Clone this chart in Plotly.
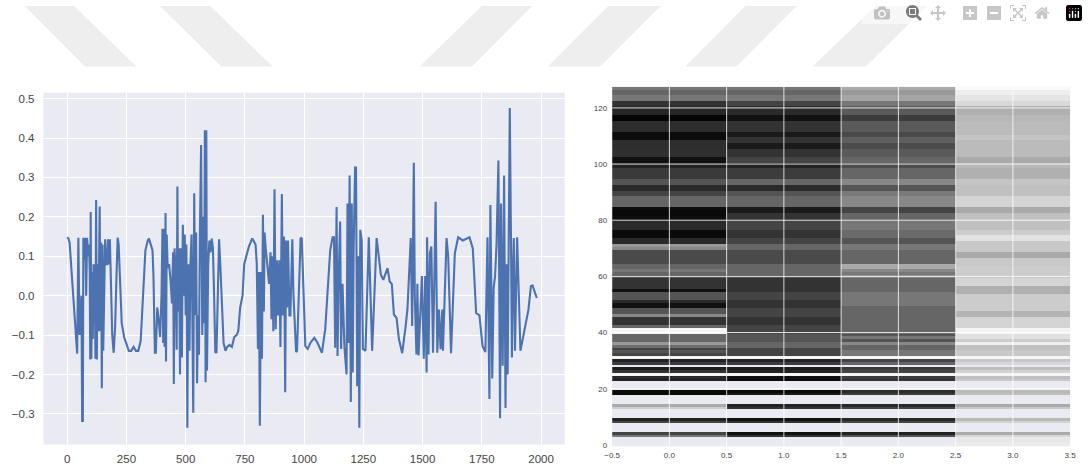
import plotly.graph_objects as go

W, H = 1088, 475
N = None

signal_x = [0,5,10,20,30,38,42,47,52,56,60,63,66,68,72,76,80,84,88,92,95,97,99,102,105,108,111,113,116,119,122,125,128,131,134,137,140,143,146,149,152,155,160,165,170,172,175,180,185,190,196,202,208,213,217,222,230,240,250,260,270,280,290,300,310,320,330,340,345,355,360,364,370,374,380,386,392,398,402,405,408,411,415,417,420,424,430,436,442,447,450,453,458,462,465,468,472,476,479,484,488,492,496,500,503,507,511,516,520,525,528,532,536,540,544,548,552,556,560,565,570,574,578,581,584,587,590,595,600,605,610,615,620,625,630,636,641,646,652,660,668,675,685,695,705,715,722,730,740,747,767,781,795,800,805,809,813,818,822,826,830,833,838,845,852,858,862,866,870,875,880,885,890,895,900,906,910,915,920,924,928,932,938,942,950,955,960,966,970,978,985,990,997,1005,1015,1026,1043,1057,1075,1089,1110,1120,1126,1131,1137,1141,1146,1152,1156,1162,1170,1179,1183,1187,1192,1197,1201,1205,1209,1215,1219,1224,1228,1233,1237,1243,1248,1259,1273,1287,1306,1314,1324,1334,1352,1361,1370,1379,1390,1400,1414,1428,1436,1450,1456,1463,1467,1474,1478,1483,1497,1505,1511,1517,1519,1525,1531,1537,1544,1549,1555,1562,1569,1576,1583,1586,1601,1608,1620,1636,1650,1670,1698,1712,1726,1740,1753,1765,1774,1782,1786,1790,1794,1800,1806,1812,1820,1827,1831,1838,1844,1850,1854,1859,1864,1868,1873,1877,1881,1885,1890,1899,1913,1931,1947,1957,1964,1982,1986,2000]
signal_y = [.148,.145,.135,.04,-.05,-.11,-.147,.147,-.10,-.05,.0,-.318,-.318,.147,.09,.147,.0,.147,.10,.13,.06,-.162,.212,-.16,.06,-.11,.08,-.07,.08,-.16,.243,-.162,.08,-.09,.05,.226,-.09,.135,-.235,.13,-.14,.0,.143,.08,.08,.143,.08,.143,.0,-.10,-.145,-.08,.05,.147,.13,.03,-.07,-.105,-.125,-.14,-.14,-.13,-.14,-.14,-.115,-.015,.115,.14,.145,.125,.115,.05,-.145,-.145,-.03,-.06,-.105,.0,.17,-.12,.17,-.13,.21,-.167,.155,.07,.08,.04,-.02,.11,-.224,.12,.05,-.137,.277,-.04,.12,-.2,.12,-.157,.18,.0,.155,-.05,.13,-.335,.08,-.14,.08,.155,-.12,-.297,.26,-.05,.16,-.222,-.05,-.15,.155,.382,-.10,.2,-.07,.42,-.22,.42,-.19,.08,.14,.11,.145,.12,.0,-.143,-.145,.0,.143,.08,.0,-.12,-.14,-.13,-.125,-.13,-.105,-.10,-.09,-.03,.0,.08,.125,.145,.13,.08,-.135,.06,-.33,.06,-.16,.205,-.04,.16,.12,.07,.03,.11,-.06,.10,-.09,.27,-.085,.09,-.05,.09,-.13,.258,-.05,.15,-.245,.14,-.03,.14,-.05,-.05,.143,.0,-.08,-.143,-.14,.0,.147,.145,.0,-.128,-.135,-.12,-.107,-.12,-.145,-.085,.115,.148,.148,-.132,.225,-.153,.05,.188,-.135,.03,-.13,-.2,.234,-.12,.305,-.27,.234,-.195,.12,.325,.325,-.23,.1,-.335,.167,.14,-.135,-.14,.148,-.14,.146,.1,.053,.04,.07,.036,.03,-.048,-.056,-.11,-.146,-.08,-.035,.146,-.077,.337,.0,-.149,.03,-.152,.05,-.16,.05,-.195,.148,-.149,.108,.125,-.145,.02,.238,-.145,-.035,-.136,-.035,-.14,.146,.1,-.146,.107,.148,.14,.148,.12,-.044,-.05,-.128,-.143,.148,-.262,.23,.03,-.21,.02,.05,.13,.343,-.311,.234,-.178,.305,-.285,.08,-.2,.146,.476,.146,-.157,.05,.146,-.14,.148,-.14,-.086,-.035,.024,.026,-.006]

tick_x = [0,250,500,750,1000,1250,1500,1750,2000]
tick_y = [-0.3,-0.2,-0.1,0.0,0.1,0.2,0.3,0.4,0.5]
tick_x2 = [-0.5,0.0,0.5,1.0,1.5,2.0,2.5,3.0,3.5]
tick_y2 = [0,20,40,60,80,100,120]

# spectrogram gray levels, row 0 (bottom) to row 127 (top)
col0 = [N,N,N,119,68,N,N,N,68,34,N,N,N,204,170,N,N,N,10,10,N,N,N,34,40,245,50,30,N,60,34,245,68,85,68,110,153,102,102,102,245,245,102,51,51,51,136,85,85,17,17,42,85,85,85,17,51,51,51,51,85,102,119,102,102,74,74,74,74,74,136,153,42,42,10,10,10,42,42,42,20,14,10,10,14,102,102,102,102,68,68,42,42,85,85,58,58,58,58,34,34,17,17,48,48,48,46,46,46,12,12,12,45,45,45,45,4,4,38,38,38,51,51,119,119,102,102,119]
col1 = [N,N,N,51,17,N,N,N,51,17,N,N,N,51,34,N,N,N,25,10,N,N,N,10,14,245,34,30,N,60,34,245,68,68,68,102,102,85,85,85,68,68,68,51,51,51,68,68,68,51,51,51,68,68,68,51,51,51,51,51,85,102,102,102,102,74,74,74,74,74,102,102,68,68,51,51,51,68,68,68,51,51,51,26,26,102,102,102,102,85,85,42,42,102,102,60,60,60,60,34,34,68,68,51,51,51,26,26,51,51,26,26,51,51,51,51,17,17,42,42,42,68,68,119,119,102,102,119]
col2 = [N,N,N,85,34,N,N,N,68,40,N,N,N,68,40,N,N,N,60,45,N,N,N,51,60,245,68,60,N,102,68,245,119,119,102,102,136,85,119,85,102,102,102,102,102,102,102,102,102,102,119,119,119,119,119,102,102,102,102,102,136,119,136,170,170,102,102,102,102,102,119,119,85,85,106,106,106,119,119,119,102,102,102,68,68,136,136,136,136,122,122,85,85,136,136,102,102,102,102,76,76,102,102,90,90,90,76,76,95,95,74,74,90,90,90,90,60,60,90,90,90,119,119,165,165,153,153,170]
col3 = [235,232,232,215,170,N,N,N,210,185,N,N,N,200,170,N,N,N,190,185,N,N,N,200,192,245,210,190,N,215,200,245,200,200,192,192,238,204,225,224,244,244,212,212,212,212,180,180,204,204,204,204,204,204,176,176,176,212,212,212,200,204,204,204,200,200,200,170,170,200,200,200,200,226,226,204,204,192,192,192,192,192,192,170,170,212,212,212,212,192,192,192,192,196,196,176,176,176,176,184,184,170,170,187,187,187,187,187,187,196,196,187,187,187,187,187,184,184,176,176,176,216,216,229,229,238,238,250]
rows = list(range(128))
columns = [0, 1, 2, 3]

# decorative watermark bands in page pixels: top-left, top-right, bottom-right, bottom-left
bands = [(17,67,130,78),(154,205,268,216),(480,531,470,417),(608,661,600,547),(747,799,738,686),(879,931,869,815)]
BAND_TOP, BAND_BOTTOM = 6, 67

fig = go.Figure()
fig.add_trace(go.Scatter(x=signal_x, y=signal_y, mode="lines", xaxis="x", yaxis="y",
                         line=dict(color="#4C72B0", width=2.1), hoverinfo="skip"))
fig.add_trace(go.Heatmap(x=columns, y=rows, z=[list(r) for r in zip(col0, col1, col2, col3)],
                         xaxis="x2", yaxis="y2", zmin=0, zmax=255,
                         colorscale=[[0, "#000000"], [1, "#ffffff"]], showscale=False, hoverinfo="skip"))

shapes = []
for a, b, c, d in bands:
    path = f"M {a/W} {1-BAND_TOP/H} L {b/W} {1-BAND_TOP/H} L {c/W} {1-BAND_BOTTOM/H} L {d/W} {1-BAND_BOTTOM/H} Z"
    shapes.append(dict(type="path", path=path, xref="paper", yref="paper", fillcolor="#EEEEEE", line=dict(width=0), layer="below"))
for t in tick_x2[1:-1]:
    shapes.append(dict(type="line", xref="x2", yref="y2 domain", x0=t, x1=t, y0=0, y1=1, line=dict(color="rgba(255,255,255,0.8)", width=1), layer="above"))
for t in tick_y2[1:]:
    shapes.append(dict(type="line", xref="x2 domain", yref="y2", x0=0, x1=1, y0=t, y1=t, line=dict(color="rgba(255,255,255,0.85)", width=1), layer="above"))

GRID = "#FFFFFF"
TXT = "#444444"
fig.update_layout(
    width=W, height=H, margin=dict(l=0, r=0, t=0, b=0), paper_bgcolor="white", plot_bgcolor="#EAEAF2",
    showlegend=False, font=dict(family="Liberation Sans, Arial, sans-serif", color=TXT),
    shapes=shapes,
    xaxis=dict(domain=[36/W, 564/W], range=[-100, 2100], tickvals=tick_x, ticktext=[str(t) for t in tick_x],
               showgrid=True, gridcolor=GRID, gridwidth=1.3, zeroline=False, showline=False, ticks="",
               tickfont=dict(size=11.5), ticklabelstandoff=6, anchor="y"),
    yaxis=dict(domain=[1-447.3/H, 1-93.3/H], range=[-0.3776, 0.515], tickvals=tick_y,
               ticktext=[f"{t:.1f}".replace("-", "\u2212") for t in tick_y],
               showgrid=True, gridcolor=GRID, gridwidth=1.3, zeroline=False, showline=False, ticks="",
               tickfont=dict(size=11.5), ticklabelstandoff=8, anchor="x"),
    xaxis2=dict(domain=[612/W, 1076/W], range=[-0.5, 3.5], tickvals=tick_x2,
                ticktext=[f"{t:.1f}".replace("-", "\u2212") for t in tick_x2],
                showgrid=False, zeroline=False, showline=False, ticks="", tickfont=dict(size=8), ticklabelstandoff=3, anchor="y2"),
    yaxis2=dict(domain=[1-449.1/H, 1-87.4/H], range=[-0.5, 127.5], tickvals=tick_y2, ticktext=[str(t) for t in tick_y2],
                showgrid=False, zeroline=False, showline=False, ticks="", tickfont=dict(size=8), ticklabelstandoff=4, anchor="x2"),
)
fig.write_html("out.html", post_script="document.body.style.margin='0';document.body.style.overflow='hidden';")
